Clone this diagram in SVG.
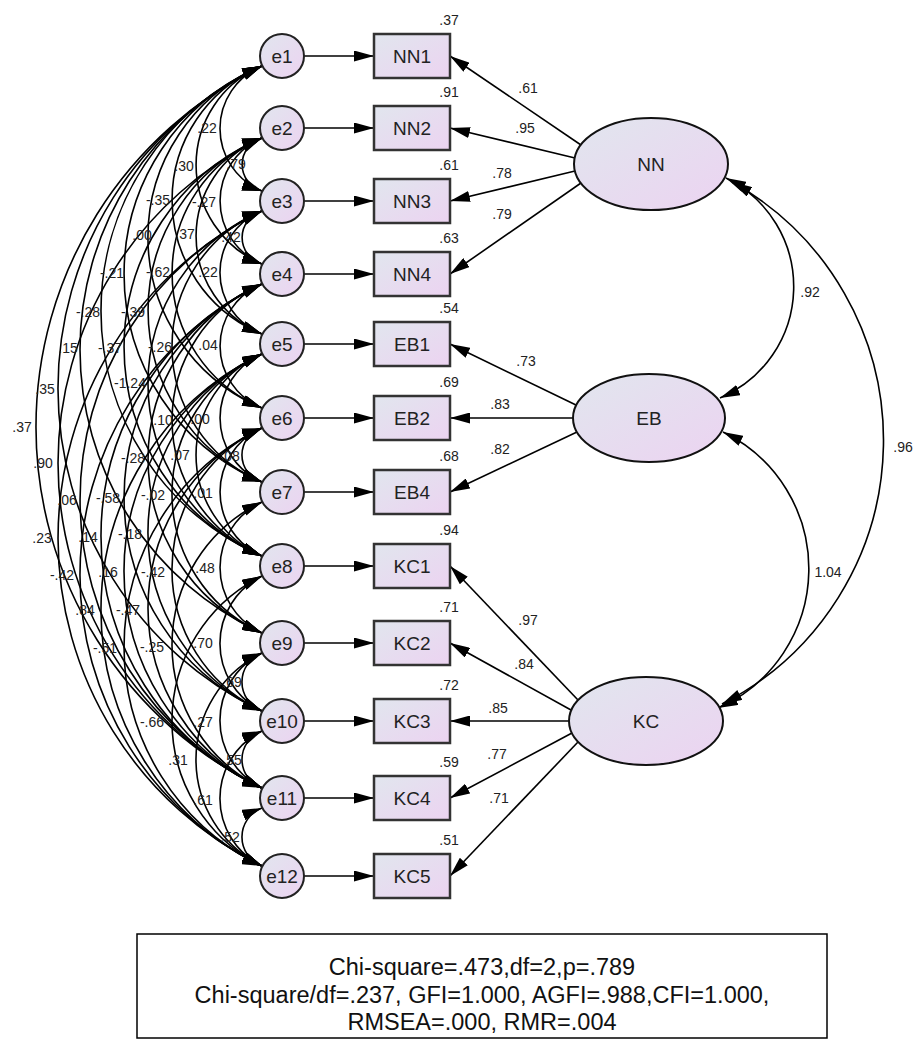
<svg xmlns="http://www.w3.org/2000/svg" width="918" height="1063" viewBox="0 0 918 1063">
<defs>
<linearGradient id="g" x1="0" y1="0" x2="1" y2="1">
<stop offset="0" stop-color="#e1e6ee"/>
<stop offset="1" stop-color="#ecd3f1"/>
</linearGradient>
<marker id="ah" viewBox="0 0 20 11" refX="20" refY="5.5" markerWidth="20" markerHeight="11" markerUnits="userSpaceOnUse" orient="auto-start-reverse">
<path d="M0,0 L20,5.5 L0,11 z" fill="#000"/>
</marker>
<style>
.ln{fill:none;stroke:#000;stroke-width:1.6;marker-end:url(#ah)}
.cv{fill:none;stroke:#000;stroke-width:1.6;marker-start:url(#ah);marker-end:url(#ah)}
.err{fill:url(#g);stroke:#222;stroke-width:2}
.box{fill:url(#g);stroke:#333;stroke-width:2.5}
.lat{fill:url(#g);stroke:#111;stroke-width:2}
.nt{font-family:"Liberation Sans",Arial,sans-serif;font-size:19px;fill:#222;text-anchor:middle}
.sm{font-family:"Liberation Sans",Arial,sans-serif;font-size:14px;fill:#222;text-anchor:middle}
.fit{font-family:"Liberation Sans",Arial,sans-serif;font-size:23.5px;fill:#111;text-anchor:middle}
</style>
</defs>
<rect width="918" height="1063" fill="#fff"/>

<g id="connectors">
<path class="ln" d="M304 56 L374 56"/>
<path class="ln" d="M304 128 L374 128"/>
<path class="ln" d="M304 201 L374 201"/>
<path class="ln" d="M304 274 L374 274"/>
<path class="ln" d="M304 344 L374 344"/>
<path class="ln" d="M304 418 L374 418"/>
<path class="ln" d="M304 492 L374 492"/>
<path class="ln" d="M304 566 L374 566"/>
<path class="ln" d="M304 643 L374 643"/>
<path class="ln" d="M304 721 L374 721"/>
<path class="ln" d="M304 798 L374 798"/>
<path class="ln" d="M304 876 L374 876"/>
<path class="ln" d="M581 145 L450 56"/>
<path class="ln" d="M575 158 L450 128"/>
<path class="ln" d="M575 171 L450 201"/>
<path class="ln" d="M581 183 L450 274"/>
<path class="ln" d="M576 405 L450 344"/>
<path class="ln" d="M573 418 L450 418"/>
<path class="ln" d="M577 432 L450 492"/>
<path class="ln" d="M578 700 L450 566"/>
<path class="ln" d="M571 710 L450 643"/>
<path class="ln" d="M569 721 L450 721"/>
<path class="ln" d="M572 733 L450 798"/>
<path class="ln" d="M578 742 L450 876"/>
<path class="cv" d="M726 178 A121 121 0 0 1 720 398"/>
<path class="cv" d="M732 182 A296 296 0 0 1 722 704"/>
<path class="cv" d="M723 432 A152 152 0 0 1 718 708"/>
<path class="cv" d="M262 66 A67.5 67.5 0 0 0 262 191"/>
<path class="cv" d="M262 138 A27.6 27.6 0 0 0 262 191"/>
<path class="cv" d="M262 66 A107.3 107.3 0 0 0 262 264"/>
<path class="cv" d="M262 138 A68.3 68.3 0 0 0 262 264"/>
<path class="cv" d="M262 66 A144.8 144.8 0 0 0 262 334"/>
<path class="cv" d="M262 211 A27.6 27.6 0 0 0 262 264"/>
<path class="cv" d="M262 138 A105.8 105.8 0 0 0 262 334"/>
<path class="cv" d="M262 66 A185.2 185.2 0 0 0 262 408"/>
<path class="cv" d="M262 211 A66 66 0 0 0 262 334"/>
<path class="cv" d="M262 138 A146.3 146.3 0 0 0 262 408"/>
<path class="cv" d="M262 66 A225.8 225.8 0 0 0 262 482"/>
<path class="cv" d="M262 138 A186.8 186.8 0 0 0 262 482"/>
<path class="cv" d="M262 66 A266.9 266.9 0 0 0 262 556"/>
<path class="cv" d="M262 284 A66.8 66.8 0 0 0 262 408"/>
<path class="cv" d="M262 211 A147 147 0 0 0 262 482"/>
<path class="cv" d="M262 138 A227.3 227.3 0 0 0 262 556"/>
<path class="cv" d="M262 66 A311.8 311.8 0 0 0 262 633"/>
<path class="cv" d="M262 211 A187.5 187.5 0 0 0 262 556"/>
<path class="cv" d="M262 66 A356.9 356.9 0 0 0 262 711"/>
<path class="cv" d="M262 354 A69.8 69.8 0 0 0 262 482"/>
<path class="cv" d="M262 284 A147.8 147.8 0 0 0 262 556"/>
<path class="cv" d="M262 66 A401.3 401.3 0 0 0 262 788"/>
<path class="cv" d="M262 428 A28.2 28.2 0 0 0 262 482"/>
<path class="cv" d="M262 354 A110.3 110.3 0 0 0 262 556"/>
<path class="cv" d="M262 284 A190.6 190.6 0 0 0 262 633"/>
<path class="cv" d="M262 138 A360.9 360.9 0 0 0 262 788"/>
<path class="cv" d="M262 428 A69.8 69.8 0 0 0 262 556"/>
<path class="cv" d="M262 354 A153.1 153.1 0 0 0 262 633"/>
<path class="cv" d="M262 284 A234.2 234.2 0 0 0 262 711"/>
<path class="cv" d="M262 211 A319.7 319.7 0 0 0 262 788"/>
<path class="cv" d="M262 354 A196.7 196.7 0 0 0 262 711"/>
<path class="cv" d="M262 284 A277.7 277.7 0 0 0 262 788"/>
<path class="cv" d="M262 211 A364.9 364.9 0 0 0 262 866"/>
<path class="cv" d="M262 502 A72.1 72.1 0 0 0 262 633"/>
<path class="cv" d="M262 428 A156.2 156.2 0 0 0 262 711"/>
<path class="cv" d="M262 354 A239.6 239.6 0 0 0 262 788"/>
<path class="cv" d="M262 284 A323.6 323.6 0 0 0 262 866"/>
<path class="cv" d="M262 428 A199.1 199.1 0 0 0 262 788"/>
<path class="cv" d="M262 354 A284 284 0 0 0 262 866"/>
<path class="cv" d="M262 576 A75.2 75.2 0 0 0 262 711"/>
<path class="cv" d="M262 502 A158.6 158.6 0 0 0 262 788"/>
<path class="cv" d="M262 428 A242.8 242.8 0 0 0 262 866"/>
<path class="cv" d="M262 653 A31 31 0 0 0 262 711"/>
<path class="cv" d="M262 576 A161.8 161.8 0 0 0 262 866"/>
<path class="cv" d="M262 653 A75.2 75.2 0 0 0 262 788"/>
<path class="cv" d="M262 731 A30.3 30.3 0 0 0 262 788"/>
<path class="cv" d="M262 653 A118.9 118.9 0 0 0 262 866"/>
<path class="cv" d="M262 731 A75.2 75.2 0 0 0 262 866"/>
<path class="cv" d="M262 808 A31 31 0 0 0 262 866"/>
</g>

<g id="connector-labels" class="sm">
<text x="528" y="93">.61</text><text x="525" y="133">.95</text><text x="502" y="178">.78</text><text x="502" y="219">.79</text>
<text x="526" y="366">.73</text><text x="500" y="409">.83</text><text x="500" y="454">.82</text>
<text x="528" y="625">.97</text><text x="524" y="669">.84</text><text x="498" y="713">.85</text><text x="497" y="759">.77</text><text x="499" y="803">.71</text>
<text x="810" y="297">.92</text><text x="903" y="452">.96</text><text x="828" y="577">1.04</text>
<text x="207" y="133">.22</text><text x="236" y="169">.79</text><text x="184" y="171">.30</text>
<text x="204" y="207">-.27</text><text x="158" y="205">-.35</text>
<text x="231" y="242">.42</text><text x="185" y="239">.37</text><text x="142" y="240">.00</text>
<text x="208" y="277">.22</text><text x="158" y="277">-.62</text><text x="112" y="278">-.21</text>
<text x="133" y="317">-.39</text><text x="88" y="317">-.28</text>
<text x="208" y="350">.04</text><text x="160" y="352">-.26</text><text x="110" y="353">-.37</text><text x="68" y="353">.15</text>
<text x="130" y="388">-1.24</text><text x="45" y="394">.35</text>
<text x="200" y="424">.00</text><text x="163" y="425">.10</text><text x="22" y="432">.37</text>
<text x="230" y="461">.08</text><text x="180" y="460">.07</text><text x="133" y="463">-.28</text><text x="43" y="468">.90</text>
<text x="203" y="498">.01</text><text x="153" y="500">-.02</text><text x="108" y="503">-.58</text><text x="67" y="505">.06</text>
<text x="130" y="539">-.18</text><text x="88" y="542">.14</text><text x="42" y="543">.23</text>
<text x="205" y="573">.48</text><text x="153" y="577">-.42</text><text x="108" y="577">.16</text><text x="62" y="580">-.42</text>
<text x="128" y="615">-.47</text><text x="85" y="615">.84</text>
<text x="203" y="648">.70</text><text x="152" y="652">-.25</text><text x="105" y="653">-.51</text>
<text x="232" y="687">.69</text>
<text x="152" y="727">-.66</text><text x="203" y="727">.27</text>
<text x="232" y="765">.55</text><text x="178" y="765">.31</text>
<text x="203" y="805">.61</text>
<text x="230" y="842">.52</text>
</g>

<g id="e1"><circle class="err" cx="282" cy="56" r="22"/><text class="nt" x="282" y="63">e1</text></g>
<g id="e2"><circle class="err" cx="282" cy="128" r="22"/><text class="nt" x="282" y="135">e2</text></g>
<g id="e3"><circle class="err" cx="282" cy="201" r="22"/><text class="nt" x="282" y="208">e3</text></g>
<g id="e4"><circle class="err" cx="282" cy="274" r="22"/><text class="nt" x="282" y="281">e4</text></g>
<g id="e5"><circle class="err" cx="282" cy="344" r="22"/><text class="nt" x="282" y="351">e5</text></g>
<g id="e6"><circle class="err" cx="282" cy="418" r="22"/><text class="nt" x="282" y="425">e6</text></g>
<g id="e7"><circle class="err" cx="282" cy="492" r="22"/><text class="nt" x="282" y="499">e7</text></g>
<g id="e8"><circle class="err" cx="282" cy="566" r="22"/><text class="nt" x="282" y="573">e8</text></g>
<g id="e9"><circle class="err" cx="282" cy="643" r="22"/><text class="nt" x="282" y="650">e9</text></g>
<g id="e10"><circle class="err" cx="282" cy="721" r="22"/><text class="nt" x="282" y="728">e10</text></g>
<g id="e11"><circle class="err" cx="282" cy="798" r="22"/><text class="nt" x="282" y="805">e11</text></g>
<g id="e12"><circle class="err" cx="282" cy="876" r="22"/><text class="nt" x="282" y="883">e12</text></g>

<g id="NN1"><rect class="box" x="374" y="34" width="76" height="44"/><text class="nt" x="412" y="63">NN1</text><text class="sm" x="449" y="25">.37</text></g>
<g id="NN2"><rect class="box" x="374" y="106" width="76" height="44"/><text class="nt" x="412" y="135">NN2</text><text class="sm" x="449" y="97">.91</text></g>
<g id="NN3"><rect class="box" x="374" y="179" width="76" height="44"/><text class="nt" x="412" y="208">NN3</text><text class="sm" x="449" y="170">.61</text></g>
<g id="NN4"><rect class="box" x="374" y="252" width="76" height="44"/><text class="nt" x="412" y="281">NN4</text><text class="sm" x="449" y="243">.63</text></g>
<g id="EB1"><rect class="box" x="374" y="322" width="76" height="44"/><text class="nt" x="412" y="351">EB1</text><text class="sm" x="449" y="313">.54</text></g>
<g id="EB2"><rect class="box" x="374" y="396" width="76" height="44"/><text class="nt" x="412" y="425">EB2</text><text class="sm" x="449" y="387">.69</text></g>
<g id="EB4"><rect class="box" x="374" y="470" width="76" height="44"/><text class="nt" x="412" y="499">EB4</text><text class="sm" x="449" y="461">.68</text></g>
<g id="KC1"><rect class="box" x="374" y="544" width="76" height="44"/><text class="nt" x="412" y="573">KC1</text><text class="sm" x="449" y="535">.94</text></g>
<g id="KC2"><rect class="box" x="374" y="621" width="76" height="44"/><text class="nt" x="412" y="650">KC2</text><text class="sm" x="449" y="612">.71</text></g>
<g id="KC3"><rect class="box" x="374" y="699" width="76" height="44"/><text class="nt" x="412" y="728">KC3</text><text class="sm" x="449" y="690">.72</text></g>
<g id="KC4"><rect class="box" x="374" y="776" width="76" height="44"/><text class="nt" x="412" y="805">KC4</text><text class="sm" x="449" y="767">.59</text></g>
<g id="KC5"><rect class="box" x="374" y="854" width="76" height="44"/><text class="nt" x="412" y="883">KC5</text><text class="sm" x="449" y="845">.51</text></g>

<g id="NN"><ellipse class="lat" cx="651" cy="164" rx="77" ry="46"/><text class="nt" x="651" y="171">NN</text></g>
<g id="EB"><ellipse class="lat" cx="649" cy="418" rx="76" ry="44"/><text class="nt" x="649" y="425">EB</text></g>
<g id="KC"><ellipse class="lat" cx="646" cy="721" rx="77" ry="44"/><text class="nt" x="646" y="728">KC</text></g>

<g id="fit">
<rect x="137" y="934" width="690" height="104" fill="#fff" stroke="#000" stroke-width="1.5"/>
<text class="fit" x="482" y="975">Chi-square=.473,df=2,p=.789</text>
<text class="fit" x="482" y="1003">Chi-square/df=.237, GFI=1.000, AGFI=.988,CFI=1.000,</text>
<text class="fit" x="482" y="1030">RMSEA=.000, RMR=.004</text>
</g>
</svg>
